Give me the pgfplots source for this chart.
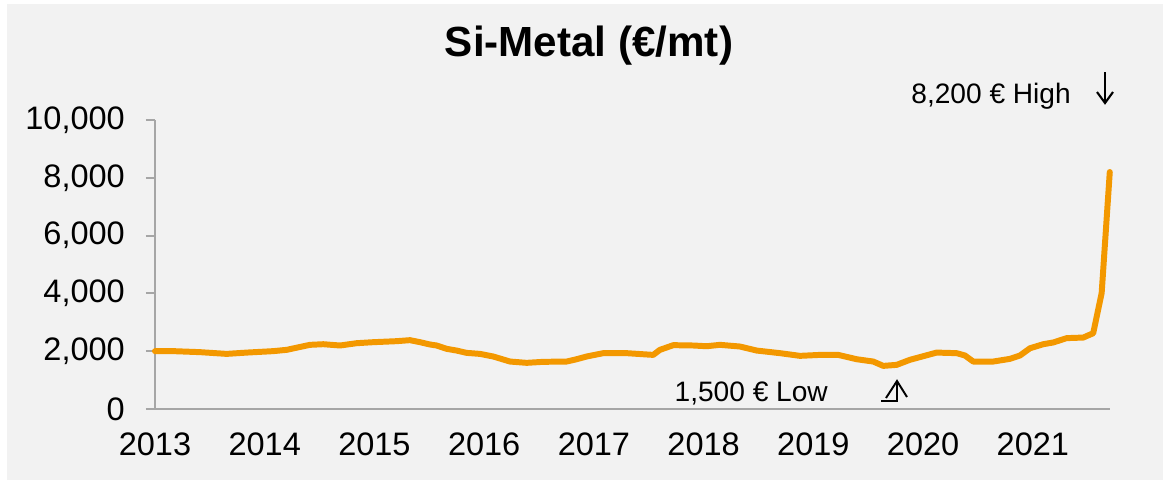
\documentclass[border=0pt]{standalone}
\usepackage{fontspec}
\setmainfont{Liberation Sans}
\usepackage{pgfplots}
\usepackage{pgfplotstable}
\pgfplotsset{compat=1.18}

\definecolor{bgGray}{HTML}{F2F2F2}
\definecolor{axGray}{HTML}{A6A6A6}
\definecolor{siOrange}{HTML}{F39800}

% monthly price, x in decimal years, y in EUR/mt
\pgfplotstableread{
x        y
2013.000 2000
2013.167 2000
2013.410 1965
2013.653 1905
2013.836 1950
2014.078 2000
2014.200 2045
2014.412 2218
2014.534 2240
2014.686 2195
2014.838 2275
2014.989 2310
2015.202 2345
2015.323 2380
2015.415 2310
2015.506 2230
2015.567 2195
2015.658 2080
2015.749 2020
2015.840 1940
2015.961 1905
2016.082 1815
2016.235 1640
2016.387 1595
2016.538 1630
2016.751 1640
2016.842 1720
2016.934 1815
2017.085 1930
2017.298 1930
2017.540 1870
2017.601 2045
2017.723 2207
2017.905 2195
2018.027 2170
2018.148 2218
2018.330 2160
2018.483 2020
2018.695 1930
2018.877 1837
2019.059 1870
2019.226 1870
2019.394 1720
2019.545 1640
2019.636 1490
2019.758 1525
2019.879 1700
2020.122 1950
2020.305 1930
2020.380 1850
2020.456 1640
2020.638 1640
2020.790 1733
2020.882 1850
2020.973 2100
2021.094 2240
2021.185 2300
2021.307 2450
2021.458 2470
2021.549 2620
2021.626 4010
2021.700 8200
}\simetal

\begin{document}
\begin{tikzpicture}[x=0.02cm,y=-0.02cm]
\useasboundingbox (0,0) rectangle (1163,481);
\fill[white] (0,0) rectangle (1163,481);
\fill[bgGray] (7,4) rectangle (1163,480);

\node[anchor=base, font=\fontsize{24}{28}\selectfont\bfseries] at (589,56) {Si-Metal (€/mt)};

\begin{axis}[
    at={(3.1cm,-8.18cm)}, anchor=south west,
    scale only axis,
    width=19.1cm, height=5.78cm,
    xmin=2013, xmax=2021.70,
    ymin=0, ymax=10000,
    axis lines*=left,
    axis line style={axGray, line width=1.1pt},
    xtick={2013,2014,...,2021},
    xticklabels={2013,2014,2015,2016,2017,2018,2019,2020,2021},
    ytick={0,2000,...,10000},
    scaled y ticks=false,
    yticklabel style={/pgf/number format/fixed, /pgf/number format/1000 sep={,}, xshift=-0.30cm},
    xtick style={draw=none},
    ytick style={axGray, line width=1.1pt},
    tick align=outside,
    major tick length=0.18cm,
    tick label style={font=\fontsize{18.5}{21}\selectfont, text=black},
    xticklabel style={yshift=-0.18cm},
    /pgf/number format/assume math mode=true,
    clip=false,
]
\addplot[siOrange, line width=3.4pt, line join=round, line cap=round] table[x=x, y=y] {\simetal};
\end{axis}

% annotations
\node[anchor=base east, font=\fontsize{16}{19}\selectfont] at (1077,103) {8,200 € High};
\draw[line width=1.2pt] (1105,72) -- (1105,103);
\draw[line width=1.2pt] (1097,92) -- (1105,103) -- (1113,92);

\node[anchor=base east, font=\fontsize{16}{19}\selectfont] at (834,401) {1,500 € Low};
\draw[line width=1.1pt] (881,401) -- (897,401) -- (897,381);
\draw[line width=1.1pt] (886,398) -- (897,381) -- (907,397);
\end{tikzpicture}
\end{document}
